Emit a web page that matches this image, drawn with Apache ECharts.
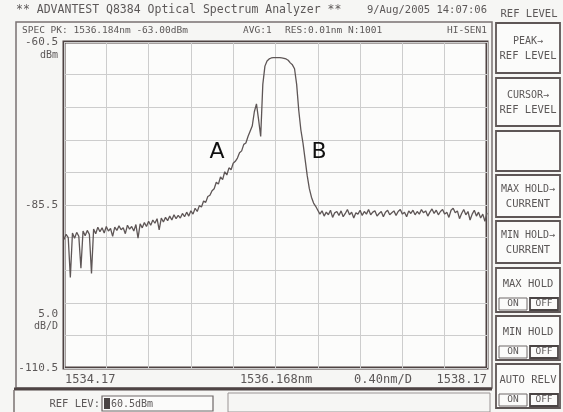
<!DOCTYPE html>
<html>
<head>
<meta charset="utf-8">
<script src="https://cdn.jsdelivr.net/npm/echarts@6/dist/echarts.min.js"></script>
<style>
html, body { margin: 0; padding: 0; background: #f1f1ef; }
#chart { width: 563px; height: 412px; }
</style>
</head>
<body>
<div id="chart"></div>
<script>
// sweep settings
var startWl = 1534.17;
var stopWl = 1538.17;
var stepWl = 0.02;        // one sample every 0.02 nm
var refLevel = -60.5;
var bottomLevel = -110.5;
var dbPerDiv = 5;
var nmPerDiv = 0.4;

// trace level in dBm, one value per sample
var power = [
  -90.8, -90.0, -90.5, -96.6, -89.8, -90.6, -89.7, -90.3, -95.2, -89.5,
  -90.2, -89.4, -90.0, -96.0, -89.2, -89.9, -88.9, -89.6, -89.0, -89.8,
  -88.8, -89.5, -89.1, -90.3, -88.9, -89.4, -88.7, -89.3, -89.0, -89.9,
  -88.6, -89.2, -88.8, -89.5, -88.5, -90.6, -88.4, -89.0, -88.2, -88.8,
  -88.0, -88.6, -87.8, -88.3, -87.6, -89.3, -87.5, -88.1, -87.4, -87.9,
  -87.2, -87.8, -87.0, -87.6, -87.1, -87.5, -86.8, -87.3, -86.6, -87.2,
  -86.4, -86.9, -86.0, -86.5, -85.6, -85.8, -84.9, -85.1, -84.2, -84.0,
  -83.3, -83.0, -82.0, -82.3, -81.2, -81.6, -80.4, -80.9, -79.8, -80.1,
  -79.1, -78.8, -78.3, -77.5, -77.2, -76.2, -76.0, -75.0, -74.2, -73.4,
  -71.2, -70.0, -72.4, -75.0, -67.0, -64.2, -63.4, -63.1, -62.95, -62.9,
  -62.9, -62.9, -62.9, -62.95, -63.0, -63.1, -63.3, -63.7, -64.0, -64.6,
  -67.0, -71.0, -74.0, -76.0, -78.5, -81.0, -83.0, -84.3, -85.2, -85.7,
  -86.3,
  -86.9, -86.4, -87.2, -86.6, -87.0, -86.3, -87.4, -86.7, -86.5, -87.1,
  -86.4, -87.3, -86.8, -86.2, -87.0, -86.6, -87.5, -86.7, -86.9, -86.3,
  -87.1, -86.5, -86.9, -86.2, -87.0, -86.6, -86.4, -87.2, -86.8, -86.5,
  -87.3, -86.6, -86.3, -87.0, -86.7, -86.4, -87.1, -86.5, -86.2, -86.9,
  -86.6, -87.3, -86.4, -86.8, -86.3, -87.0, -86.5, -86.9, -86.2, -86.7,
  -86.4, -87.2, -86.6, -86.1, -86.8, -86.3, -87.0, -86.5, -86.2, -86.9,
  -86.6, -87.4, -86.3, -86.0, -86.7, -86.4, -87.6, -86.8, -86.2, -87.0,
  -86.5, -87.8, -86.9, -86.3, -87.2, -86.6, -87.5, -86.9, -88.0, -86.7
];

var yLabels = ['-60.5', '-85.5', '-110.5'];
var xLabels = ['1534.17', '1536.168nm', '0.40nm/D', '1538.17'];
var headerText = '** ADVANTEST Q8384 Optical Spectrum Analyzer **';
var dateText = '9/Aug/2005 14:07:06';
var softkeys = [
  ['PEAK\u2192', 'REF LEVEL'],
  ['CURSOR\u2192', 'REF LEVEL'],
  ['', ''],
  ['MAX HOLD\u2192', 'CURRENT'],
  ['MIN HOLD\u2192', 'CURRENT']
];
var toggleKeys = ['MAX HOLD', 'MIN HOLD', 'AUTO RELV'];

var mono = '"DejaVu Sans Mono", "Liberation Mono", monospace';
var ink = '#5c5858';

function txt(x, y, s, size, align, extra) {
  var st = { x: x, y: y, text: s, fill: ink, font: size + 'px ' + mono,
             textAlign: align || 'left', textVerticalAlign: 'middle' };
  if (extra) for (var k in extra) st[k] = extra[k];
  return { type: 'text', z: 10, style: st, silent: true };
}
function box(x, y, w, h, stroke, lw, fill) {
  return { type: 'rect', z: 5, shape: { x: x, y: y, width: w, height: h },
           style: { fill: fill || 'none', stroke: stroke || '#6e6868', lineWidth: lw || 1 }, silent: true };
}
function line(x1, y1, x2, y2, stroke, lw) {
  return { type: 'line', z: 5, shape: { x1: x1, y1: y1, x2: x2, y2: y2 },
           style: { stroke: stroke || '#6e6868', lineWidth: lw || 1 }, silent: true };
}

var trace = power.map(function (p, i) { return [startWl + i * stepWl, p]; });

var gfx = [];
gfx.push(box(16, 22, 476, 366, '#7a7272', 1.5, 'none'));
gfx.push(line(14, 389, 492, 389, '#4e4444', 3));
gfx.push(txt(16, 10, headerText, 11.5));
gfx.push(txt(487, 10, dateText, 10.5, 'right'));
gfx.push(txt(529, 14, 'REF LEVEL', 10.5, 'center'));
gfx.push(txt(22, 31, 'SPEC PK: 1536.184nm -63.00dBm', 9.5));
gfx.push(txt(243, 31, 'AVG:1', 9.5));
gfx.push(txt(285, 31, 'RES:0.01nm N:1001', 9.5));
gfx.push(txt(487, 31, 'HI-SEN1', 9.5, 'right'));
gfx.push(txt(58, 55, 'dBm', 10, 'right'));
gfx.push(txt(58, 314, '5.0', 11, 'right'));
gfx.push(txt(58, 326, 'dB/D', 10, 'right'));
gfx.push(txt(65, 380, xLabels[0], 12));
gfx.push(txt(276, 380, xLabels[1], 12, 'center'));
gfx.push(txt(383, 380, xLabels[2], 12, 'center'));
gfx.push(txt(487, 380, xLabels[3], 12, 'right'));
gfx.push(txt(217, 152, 'A', 22, 'center', { fill: '#111', font: '22px "DejaVu Sans", sans-serif' }));
gfx.push(txt(319, 152, 'B', 22, 'center', { fill: '#111', font: '22px "DejaVu Sans", sans-serif' }));

// bottom entry line
gfx.push(line(14, 390, 14, 412, '#7a7272', 1.5));
gfx.push(txt(100, 404, 'REF LEV:', 10.5, 'right'));
gfx.push(box(102, 396, 111, 15, '#6e6868', 1.2, '#fbfbfa'));
gfx.push({ type: 'rect', z: 6, shape: { x: 104, y: 398, width: 6, height: 11 }, style: { fill: '#4a4444' }, silent: true });
gfx.push(txt(111, 404, '60.5dBm', 10));
gfx.push(box(228, 393, 262, 19, '#9a9494', 1, 'none'));

// soft keys on the right
var keyTops = [23, 78, 131, 175, 221];
var keyHeights = [50, 48, 40, 42, 42];
softkeys.forEach(function (k, i) {
  var t = keyTops[i], h = keyHeights[i];
  gfx.push(box(496, t, 64, h, '#5e5656', 1.8, '#fbfbfa'));
  gfx.push(txt(528, t + h / 2 - 7, k[0], 10, 'center'));
  gfx.push(txt(528, t + h / 2 + 8, k[1], 10.5, 'center'));
});
var toggleTops = [268, 316, 364];
toggleKeys.forEach(function (k, i) {
  var t = toggleTops[i];
  gfx.push(box(496, t, 64, 44, '#5e5656', 1.8, '#fbfbfa'));
  gfx.push(txt(528, t + 16, k, 10.5, 'center'));
  gfx.push(box(499, t + 30, 28, 12, '#6e6868', 1, 'none'));
  gfx.push(box(530, t + 30, 28, 12, '#4a4444', 1.8, 'none'));
  gfx.push(txt(513, t + 36, 'ON', 9.5, 'center'));
  gfx.push(txt(544, t + 36, 'OFF', 9.5, 'center'));
});

var chart = echarts.init(document.getElementById('chart'));
chart.setOption({
  backgroundColor: '#f6f6f4',
  animation: false,
  grid: {
    left: 64, top: 42, width: 423, height: 326,
    show: true, borderColor: '#4e4242', borderWidth: 3, backgroundColor: '#fcfcfb'
  },
  xAxis: {
    type: 'value', min: startWl, max: stopWl, interval: nmPerDiv,
    axisLine: { show: false }, axisTick: { show: false }, axisLabel: { show: false },
    splitLine: { show: true, lineStyle: { color: '#cdcdcd', width: 1 } }
  },
  yAxis: {
    type: 'value', min: bottomLevel, max: refLevel, interval: dbPerDiv,
    axisLine: { show: false }, axisTick: { show: false },
    axisLabel: {
      margin: 6, color: ink, fontFamily: mono, fontSize: 11,
      formatter: function (v) {
        var s = v.toFixed(1);
        return yLabels.indexOf(s) >= 0 ? s : '';
      }
    },
    splitLine: { show: true, lineStyle: { color: '#cdcdcd', width: 1 } }
  },
  series: [{
    type: 'line', data: trace, showSymbol: false, symbol: 'none',
    lineStyle: { color: '#5e5656', width: 1.3 }
  }],
  graphic: gfx
});
</script>
</body>
</html>
